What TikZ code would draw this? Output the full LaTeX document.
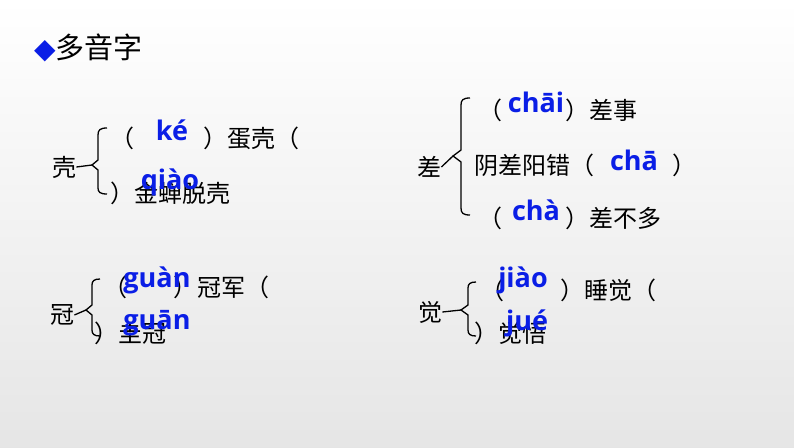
\documentclass[tikz,border=0pt]{standalone}
\usepackage{fontspec}
\setmainfont{Noto Sans CJK SC}
\newfontfamily\py{Open Sans}
\definecolor{pyblue}{RGB}{10,30,230}
\begin{document}
\begin{tikzpicture}[x=1pt,y=-1pt,
 zh/.style={font=\fontsize{24}{24}\selectfont,inner sep=0,anchor=west},
 pin/.style={font=\py\bfseries\fontsize{27}{27}\selectfont,text=pyblue,inner sep=0},
 br/.style={line width=1.3pt}]
\shade[top color=white,bottom color=black!10] (0,0) rectangle (794,447);
\useasboundingbox (0,0) rectangle (794,447);
\node[zh,font=\fontsize{29}{29}\selectfont] (t) at (34,48) {\textcolor{pyblue}{\fontspec{DejaVu Sans}\fontsize{28}{28}\selectfont◆}多音字};
% 壳
\node[zh] (k) at (52,167) {壳};
\draw[br] (107,128) .. controls (100,128) and (98,130) .. (98,135) -- (98,160) -- (92,165) -- (98,170) -- (98,188) .. controls (98,192) and (100,194) .. (107,194);
\draw[br] (k.east) -- (92,165);
\node[zh] (k1) at (110,138) {（};
\node[pin] (k1p) at (172,130) {ké};
\node[zh] (k1b) at (203,138) {）蛋壳（};
\node[zh] (k2) at (110,193) {）金蝉脱壳};
\node[pin] (k2p) at (170,182) {qiào};
% 冠
\node[zh] (g) at (50,315) {冠};
\draw[br] (100,279) .. controls (94,279) and (92,281) .. (92,285) -- (92,305) -- (86,310) -- (92,315) -- (92,330) .. controls (92,334) and (94,336) .. (100,336);
\draw[br] (g.east) -- (86,310);
\node[zh] (g1) at (103,287) {（};
\node[zh] (g1b) at (173,287) {）冠军（};
\node[pin] (g1p) at (157,280) {guàn};
\node[zh] (g2) at (94,333) {）圭冠};
\node[pin] (g2p) at (157,323) {guān};
% 差
\node[zh] (c) at (417,167) {差};
\draw[br] (470,98) .. controls (463,98) and (461,100) .. (461,105) -- (461,150) -- (453,156) -- (461,162) -- (461,208) .. controls (461,213) and (463,215) .. (470,215);
\draw[br] (c.east) -- (453,156);
\node[zh] (c1) at (478,110) {（};
\node[pin] (c1p) at (536,102) {chāi};
\node[zh] (c1b) at (565,110) {）差事};
\node[zh] (c2) at (474,165) {阴差阳错（};
\node[pin] (c2p) at (634,160) {chā};
\node[zh] (c2b) at (672,165) {）};
\node[zh] (c3) at (478,218) {（};
\node[pin] (c3p) at (536,210) {chà};
\node[zh] (c3b) at (565,218) {）差不多};
% 觉
\node[zh] (j) at (418,312) {觉};
\draw[br] (476,282) .. controls (470,282) and (468,284) .. (468,288) -- (468,305) -- (461,310) -- (468,315) -- (468,330) .. controls (468,334) and (470,336) .. (476,336);
\draw[br] (j.east) -- (461,310);
\node[zh] (j1) at (480,290) {（};
\node[pin] (j1p) at (523,280) {jiào};
\node[zh] (j1b) at (560,290) {）睡觉（};
\node[zh] (j2) at (474,333) {）觉悟};
\node[pin] (j2p) at (527,323) {jué};
\end{tikzpicture}
\end{document}
